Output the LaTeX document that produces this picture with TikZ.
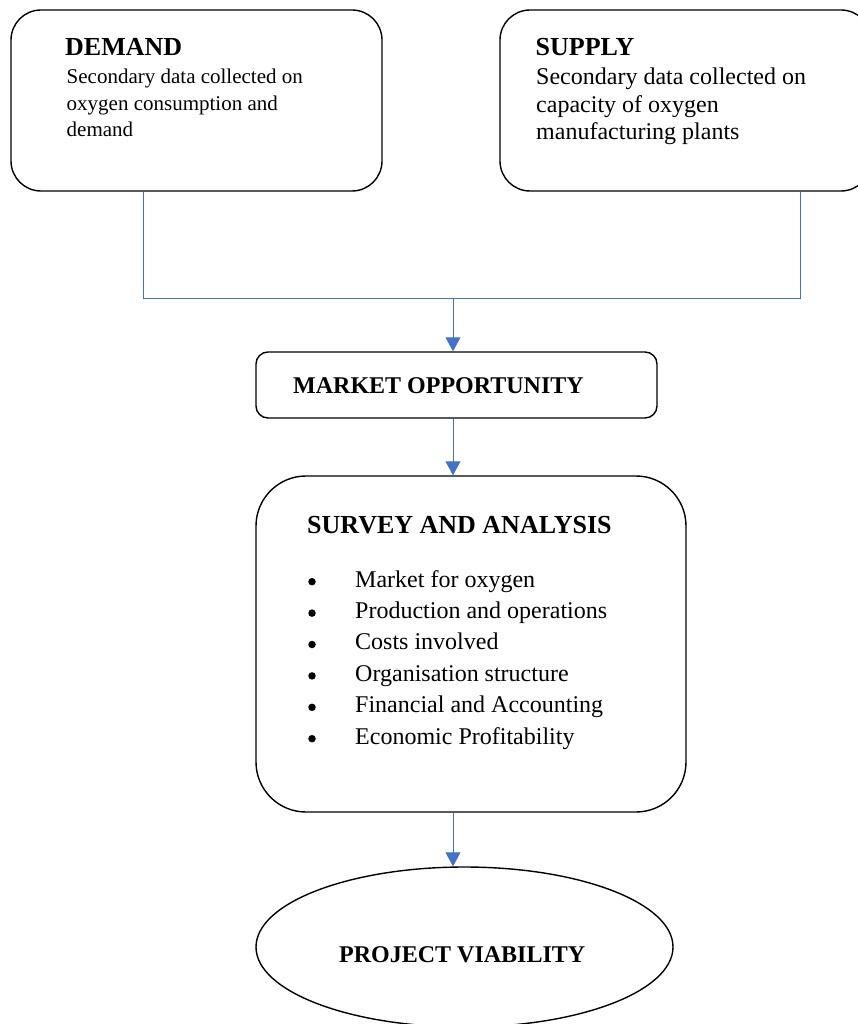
\documentclass[tikz,border=0pt]{standalone}
\usepackage{fontspec}
\setmainfont{Liberation Serif}
\usetikzlibrary{arrows.meta,shapes.geometric}
\definecolor{linkblue}{HTML}{4472C4}
\begin{document}
\begin{tikzpicture}[x=1pt,y=-1pt,
  box/.style={draw=black, line width=1.4pt, rounded corners=#1, inner sep=0pt},
  oval/.style={ellipse, draw=black, line width=1.4pt, inner sep=0pt},
  link/.style={draw=linkblue, line width=0.9pt},
  flow/.style={link, -{Triangle[length=14pt,width=15pt]}},
  head/.style={font=\fontsize{26}{30}\selectfont\bfseries, anchor=base west, inner sep=0pt},
  title/.style={font=\fontsize{24}{28}\selectfont\bfseries, anchor=base west, inner sep=0pt},
  small/.style={font=\fontsize{21}{26}\selectfont, anchor=base west, inner sep=0pt},
  large/.style={font=\fontsize{24}{30}\selectfont, anchor=base west, inner sep=0pt},
  dot/.style={circle, fill=black, inner sep=0pt, minimum size=7.5pt}]
\useasboundingbox (0,0) rectangle (857,1024);

% boxes
\node[box=30pt, minimum width=371pt, minimum height=181pt] (demand) at (196.5,100.5) {};
\node[box=30pt, minimum width=371pt, minimum height=181pt] (supply) at (685.5,100.5) {};
\node[box=12pt, minimum width=401pt, minimum height=66pt] (market) at (456.5,385) {};
\node[box=50pt, minimum width=430pt, minimum height=336pt] (survey) at (471,644) {};
\node[oval, minimum width=417pt, minimum height=160pt] (viability) at (464.5,947) {};

% demand text
\node[head] (demandhead) at (65,56) {DEMAND};
\node[small] (demand1) at (66.5,84) {Secondary data collected on};
\node[small] (demand2) at (66.5,110.5) {oxygen consumption and};
\node[small] (demand3) at (66.5,137) {demand};

% supply text
\node[head] (supplyhead) at (535.5,56) {SUPPLY};
\node[large] (supply1) at (536,85) {Secondary data collected on};
\node[large] (supply2) at (536,112.5) {capacity of oxygen};
\node[large] (supply3) at (536,140) {manufacturing plants};

% market
\node[title] (markethead) at (293,393) {MARKET OPPORTUNITY};

% survey
\node[head] (surveyhead) at (307,533) {SURVEY AND ANALYSIS};
\foreach \t [count=\i] in {Market for oxygen, Production and operations, Costs involved,
  Organisation structure, Financial and Accounting, Economic Profitability} {
  \node[dot] (bullet\i) at (312,550.3+31.4*\i) {};
  \node[large] (item\i) at (355,555.6+31.4*\i) {\t};
}

% viability
\node[title] (viabilityhead) at (339,962) {PROJECT VIABILITY};

% connectors
\coordinate (join) at (453,298);
\draw[link] ([xshift=-53.5pt]demand.south) |- (join);
\draw[link] ([xshift=114.5pt]supply.south) |- (join);
\draw[flow] (join) -- (join |- market.north);
\draw[flow] (join |- market.south) -- (join |- survey.north);
\draw[flow] (join |- survey.south) -- (join |- viability.north);
\end{tikzpicture}
\end{document}
